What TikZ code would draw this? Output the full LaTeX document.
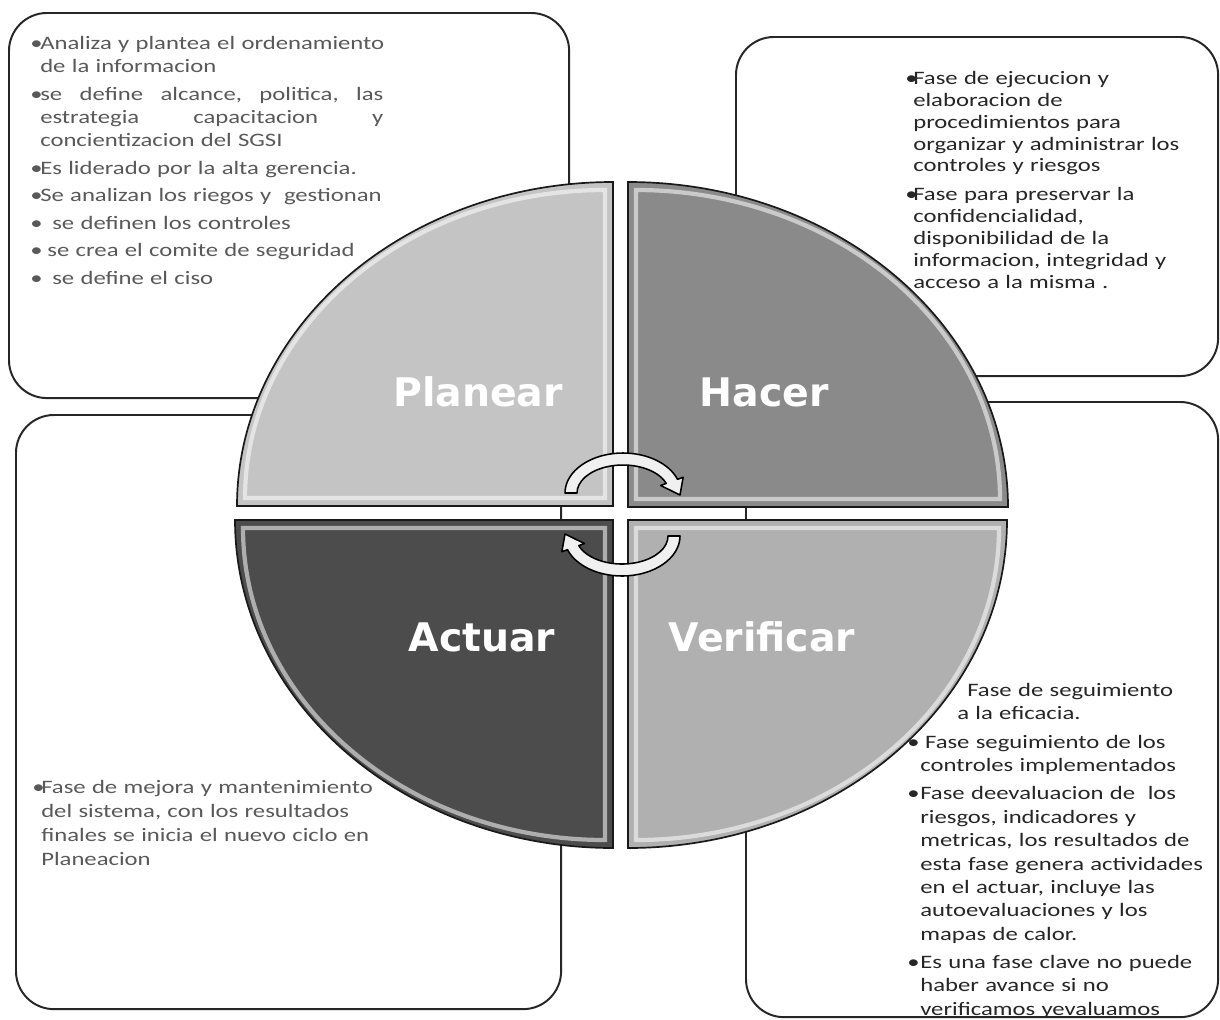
\documentclass[tikz,border=0pt]{standalone}
\usepackage{fontspec}
\setmainfont{Carlito}[FakeStretch=1.3]
\newfontfamily\labelfont{DejaVu Sans}
\usetikzlibrary{calc, positioning}

\definecolor{planfill}{HTML}{C4C4C4}
\definecolor{hacfill}{HTML}{8A8A8A}
\definecolor{actfill}{HTML}{4C4C4C}
\definecolor{verfill}{HTML}{B0B0B0}

% vineta con sangria colgante
\newcommand{\bul}[1]{\par\hangindent=#1\hangafter=1\noindent\makebox[#1][l]{\textbullet}}

\begin{document}
\begin{tikzpicture}[x=0.025cm, y=-0.025cm,
  box/.style={draw=black!85, line width=1.4pt, rounded corners=0.95cm, fill=white,
    inner sep=0pt, anchor=north west},
  boxtext/.style 2 args={inner sep=0pt, text width=10cm, anchor=north west,
    font=\fontsize{13.5}{#1}\selectfont,
    execute at begin node={\setlength{\parskip}{#2}}},
  quad/.style={draw=black!90, line width=1.2pt},
  shine/.style={draw=white, line width=3pt, opacity=0.55},
  phase/.style={font={\labelfont\bfseries\fontsize{28}{28}\selectfont}, text=white},
  cyclearrow/.style={draw=black, line width=1.1pt, fill=black!6, line join=round}
]
\useasboundingbox (0,0) rectangle (1220,1019);

% cajas
\node[box, minimum width=14cm, minimum height=9.625cm] (planbox) at (8,12) {};
\node[box, minimum width=12.05cm, minimum height=8.475cm] (hacbox) at (735,36) {};
\node[box, minimum width=13.625cm, minimum height=14.85cm] (actbox) at (15,414) {};
\node[box, minimum width=11.8cm, minimum height=15.375cm] (verbox) at (745,401) {};

% cuadrantes
\path[quad, fill=planfill] (613,506) -- (237,506)
  arc[start angle=180, end angle=270, x radius=376, y radius=324] -- cycle;
\draw[shine] (605,498) -- (245,498)
  arc[start angle=180, end angle=270, x radius=360, y radius=308] -- cycle;

\path[quad, fill=hacfill] (628,507) -- (628,182)
  arc[start angle=270, end angle=360, x radius=380, y radius=325] -- cycle;
\draw[shine] (636,499) -- (636,190)
  arc[start angle=270, end angle=360, x radius=364, y radius=309] -- cycle;

\path[quad, fill=actfill] (613,520) -- (235,520)
  arc[start angle=180, end angle=90, x radius=378, y radius=328] -- cycle;
\draw[shine] (605,528) -- (243,528)
  arc[start angle=180, end angle=90, x radius=362, y radius=312] -- cycle;

\path[quad, fill=verfill] (628,520) -- (1007,520)
  arc[start angle=0, end angle=90, x radius=379, y radius=328] -- cycle;
\draw[shine] (636,528) -- (999,528)
  arc[start angle=0, end angle=90, x radius=363, y radius=312] -- cycle;

\node[phase] (planear) at (478,392) {Planear};
\node[phase] (hacer) at (764,392) {Hacer};
\node[phase] (actuar) at (482,637) {Actuar};
\node[phase] (verificar) at (762,637) {Verificar};

% flechas del ciclo
\coordinate (topc) at (623,493);
\coordinate (botc) at (622,536);
\coordinate (toptip) at (680,495);
\coordinate (bottip) at (565,534);
\draw[cyclearrow] ($(topc)+(180:58 and 40)$)
  arc[start angle=180, end angle=340, x radius=58, y radius=40]
  -- ($(topc)+(340:64 and 46)$) -- (toptip) -- ($(topc)+(340:40 and 22)$)
  -- ($(topc)+(340:46 and 28)$)
  arc[start angle=340, end angle=180, x radius=46, y radius=28] -- cycle;
\draw[cyclearrow] ($(botc)+(0:58 and 40)$)
  arc[start angle=0, end angle=160, x radius=58, y radius=40]
  -- ($(botc)+(160:64 and 46)$) -- (bottip) -- ($(botc)+(160:40 and 22)$)
  -- ($(botc)+(160:46 and 28)$)
  arc[start angle=160, end angle=0, x radius=46, y radius=28] -- cycle;

% textos
\node[boxtext={16.4pt}{3.2pt}, text=black!65] (plantxt) at (30,22) {%
\bul{0.25cm}Analiza y plantea el ordenamiento\newline de la informacion
\bul{0.25cm}\hbox to 8.575cm{se\hfill define\hfill alcance,\hfill politica,\hfill las}\newline
\hbox to 8.575cm{estrategia\hfill capacitacion\hfill y}\newline concientizacion del SGSI
\bul{0.25cm}Es liderado por la alta gerencia.
\bul{0.25cm}Se analizan los riegos y\ \ gestionan
\bul{0.25cm}\hspace*{0.3cm}se definen los controles
\bul{0.25cm}\hspace*{0.18cm}se crea el comite de seguridad
\bul{0.25cm}\hspace*{0.3cm}se define el ciso\par};

\node[boxtext={15.6pt}{5pt}, text=black!85] (hactxt) at (905,55) {%
\bul{0.2cm}Fase de ejecucion y\newline elaboracion de\newline procedimientos para\newline
organizar y administrar los\newline controles y riesgos
\bul{0.2cm}Fase para preservar la\newline confidencialidad,\newline disponibilidad de la\newline
informacion, integridad y\newline acceso a la misma .\par};

\node[boxtext={17pt}{3pt}, text=black!65] (acttxt) at (32,765) {%
\bul{0.225cm}Fase de mejora y mantenimiento\newline del sistema, con los resultados\newline
finales se inicia el nuevo ciclo en\newline Planeacion\par};

\node[boxtext={16.6pt}{3.6pt}, text=black!85] (vertxt) at (907,683) {%
\hspace*{1.5cm}Fase de seguimiento\newline\hspace*{1.25cm}a la eficacia.
\bul{0.325cm}\hspace*{0.12cm}Fase seguimiento de los\newline controles implementados
\bul{0.325cm}Fase deevaluacion de\ \ los\newline riesgos, indicadores y\newline
metricas, los resultados de\newline esta fase genera actividades\newline
en el actuar, incluye las\newline autoevaluaciones y los\newline mapas de calor.
\bul{0.325cm}Es una fase clave no puede\newline haber avance si no\newline
verificamos yevaluamos\par};

\end{tikzpicture}
\end{document}
